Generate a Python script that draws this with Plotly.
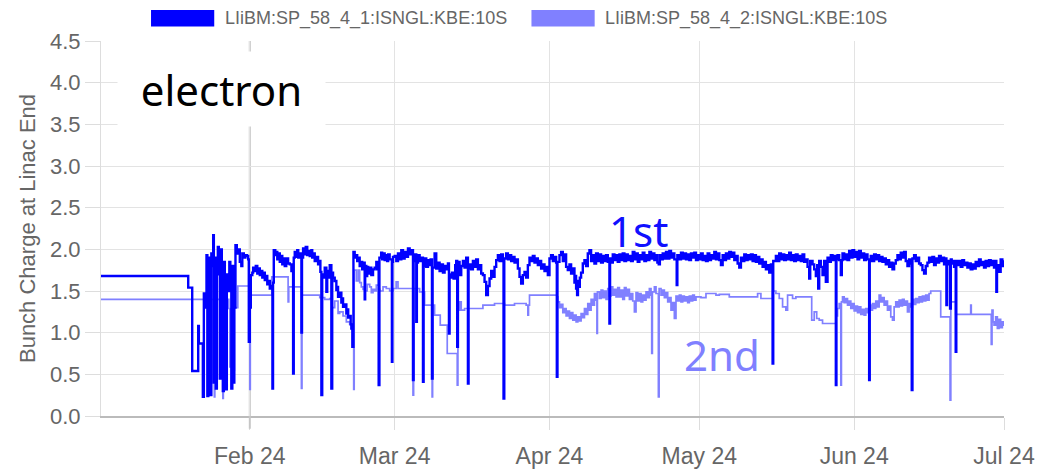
import pandas as pd
import plotly.graph_objects as go

# time axis: days since 2024-01-01
start = pd.Timestamp("2024-01-01")

# first bunch (dark blue)
blue_day_jan = [1.2, 18.67, 19.47, 20.67, 20.8, 21.6, 21.8, 22.1, 22.33, 22.5, 22.7, 22.9, 23.1, 23.3, 23.5,
                23.67, 23.8, 24.0, 24.2, 24.4, 24.6, 24.8, 25.0, 25.2, 25.4, 25.6, 25.8, 26.0, 26.2, 26.4,
                26.6, 26.9, 27.1, 27.3, 27.5, 27.7, 27.9, 28.13, 28.4, 28.6, 28.8, 29.0, 29.3, 29.5, 29.8,
                30.1, 30.4, 30.67, 30.8, 31.0, 31.2]
blue_q_jan = [1.68, 1.54, 0.54, 1.08, 0.87, 0.23, 1.47, 1.30, 1.93, 0.24, 1.90, 1.85, 0.25, 1.95, 1.80,
              2.17, 0.40, 1.90, 0.33, 1.85, 2.03, 1.70, 0.45, 2.00, 1.50, 0.30, 1.85, 0.90, 0.32, 1.70,
              1.50, 1.85, 1.60, 0.33, 1.80, 0.40, 1.30, 2.05, 1.95, 1.97, 2.00, 1.85, 1.80, 1.95, 1.90,
              1.93, 1.92, 1.88, 0.89, 1.30, 1.69]

blue_day_feb = [31.5, 31.67, 32.0, 32.2, 32.5, 32.67, 33.0, 33.2, 33.5, 33.67, 34.0, 34.2, 34.5, 34.67, 35.0,
                35.33, 35.53, 35.65, 35.8, 36.1, 36.33, 36.5, 36.7, 37.0, 37.3, 37.5, 37.67, 38.0, 38.3, 38.67,
                39.0, 39.33, 39.67, 39.8, 40.0, 40.33, 40.5, 40.7, 41.0, 41.33, 41.45, 41.67, 42.0, 42.2, 42.5,
                42.67, 43.0, 43.33, 43.5, 43.7, 44.0, 44.3, 44.67, 45.0, 45.13, 45.33, 45.5, 45.67, 46.0, 46.33,
                46.5, 46.67, 47.0, 47.33, 47.5, 47.67, 48.0, 48.33, 48.5, 48.67, 49.0, 49.33, 49.5, 49.67, 50.0,
                50.33, 50.5, 50.7, 51.0, 51.2, 51.33, 51.53, 51.75, 52.0, 52.33, 52.5, 52.7, 53.0, 53.33, 53.5,
                53.67, 54.0, 54.1, 54.33, 54.5, 54.7, 55.0, 55.33, 55.67, 56.0, 56.33, 56.5, 56.8, 56.95, 57.3,
                57.5, 57.67, 58.0, 58.33, 58.5, 58.7, 59.0, 59.45, 59.55, 59.67]
blue_q_feb = [1.72, 1.78, 1.74, 1.80, 1.71, 1.77, 1.69, 1.74, 1.66, 1.72, 1.63, 1.68, 1.58, 1.62, 1.53,
              1.56, 0.33, 1.60, 1.99, 1.93, 1.97, 1.88, 1.95, 1.85, 1.92, 1.82, 1.89, 1.80, 1.89, 1.83,
              1.82, 1.74, 0.51, 1.90, 1.97, 1.91, 1.99, 1.90, 1.95, 1.00, 1.90, 2.01, 1.94, 2.03, 1.93,
              1.98, 1.92, 1.99, 1.90, 1.95, 1.86, 1.91, 1.82, 1.86, 1.73, 0.25, 1.70, 1.66, 1.78, 1.49,
              1.74, 1.66, 1.81, 0.33, 1.72, 1.66, 1.62, 1.51, 1.55, 1.43, 1.48, 1.36, 1.41, 1.31, 1.34,
              1.23, 1.28, 1.18, 1.20, 1.10, 1.05, 0.83, 1.97, 1.90, 1.93, 1.86, 1.90, 1.80, 1.85, 1.76,
              1.84, 1.40, 1.80, 1.68, 1.79, 1.71, 1.78, 1.69, 1.76, 1.78, 1.85, 1.76, 0.37, 1.90, 1.96,
              1.88, 1.95, 1.87, 1.93, 1.86, 1.94, 1.88, 0.65, 1.85, 1.91]

blue_day_mar = [60.0, 60.33, 60.67, 61.0, 61.33, 61.67, 62.0, 62.33, 62.67, 63.0, 63.33, 63.67, 63.8, 64.0,
                64.33, 64.45, 64.67, 65.0, 65.33, 65.67, 65.8, 66.0, 66.33, 66.67, 67.0, 67.2, 67.47, 67.6,
                68.0, 68.33, 68.67, 69.0, 69.33, 69.67, 70.0, 70.33, 70.67, 70.87, 71.0, 71.13, 71.47, 71.8,
                72.13, 72.33, 72.53, 72.67, 73.0, 73.33, 73.67, 74.0, 74.33, 74.67, 74.8, 75.0, 75.33, 75.67,
                76.0, 76.33, 76.67, 77.0, 77.33, 77.67, 78.0, 78.33, 78.67, 79.0, 79.33, 79.67, 80.0, 80.33,
                80.67, 81.0, 81.33, 81.67, 81.8, 81.95, 82.33, 82.67, 83.0, 83.33, 83.67, 84.0, 84.33, 84.67,
                85.0, 85.33, 85.67, 86.0, 86.33, 86.67, 87.0, 87.33, 87.67, 88.0, 88.33, 88.67, 89.0, 89.33,
                89.67, 90.0, 90.33, 90.67, 91.0, 91.33, 91.67]
blue_q_mar = [1.92, 1.86, 1.95, 1.88, 1.99, 1.89, 1.97, 1.91, 2.01, 1.94, 1.99, 0.43, 1.86, 1.94,
              1.13, 1.84, 1.93, 1.86, 1.90, 0.41, 1.80, 1.89, 1.79, 1.87, 1.81, 1.88, 0.45, 1.78,
              1.95, 1.77, 1.84, 1.74, 1.82, 1.72, 1.80, 1.76, 1.83, 0.99, 1.70, 1.66, 1.72, 1.65,
              1.81, 1.86, 0.83, 1.85, 1.69, 1.80, 1.86, 1.78, 1.90, 0.39, 1.77, 1.82, 1.76, 1.86,
              1.79, 1.88, 1.76, 1.81, 1.71, 1.69, 1.61, 1.45, 1.56, 1.65, 1.74, 1.67, 1.79, 1.87,
              1.93, 1.86, 1.94, 1.88, 0.21, 1.89, 1.95, 1.88, 1.93, 1.86, 1.91, 1.84, 1.88, 1.77,
              1.67, 1.59, 1.69, 1.73, 1.66, 1.81, 1.90, 1.86, 1.92, 1.84, 1.89, 1.81, 1.86, 1.77,
              1.82, 1.74, 1.79, 1.69, 1.89, 1.93, 1.86]

blue_day_apr = [92.0, 92.33, 92.47, 92.6, 93.0, 93.33, 93.67, 94.0, 94.33, 94.67, 95.0, 95.33, 95.67, 96.0,
                96.2, 96.33, 96.53, 96.7, 96.8, 97.07, 97.33, 97.67, 98.0, 98.33, 98.67, 99.0, 99.33, 99.67,
                100.0, 100.33, 100.67, 101.0, 101.33, 101.67, 102.0, 102.33, 102.67, 103.0, 103.13, 103.33,
                103.67, 104.0, 104.33, 104.67, 105.0, 105.33, 105.67, 106.0, 106.33, 106.67, 107.0, 107.33,
                107.67, 108.0, 108.33, 108.67, 109.0, 109.33, 109.67, 110.0, 110.33, 110.67, 111.0, 111.33,
                111.67, 112.0, 112.33, 112.6, 112.87, 113.1, 113.33, 113.67, 114.0, 114.33, 114.67, 115.0,
                115.33, 115.67, 116.0, 116.47, 116.6, 117.0, 117.33, 117.67, 118.0, 118.33, 118.67, 119.0,
                119.33, 119.67, 120.0, 120.33, 120.67, 121.0, 121.33, 121.67]
blue_q_apr = [1.91, 1.84, 0.47, 1.85, 1.93, 1.97, 1.86, 1.94, 1.79, 1.75, 1.82, 1.71, 1.77, 1.60,
              1.68, 1.53, 1.45, 1.62, 1.55, 1.66, 1.72, 1.83, 1.87, 1.80, 1.95, 1.99, 1.86, 1.93,
              1.83, 1.95, 1.86, 1.94, 1.84, 1.92, 1.86, 1.93, 1.85, 1.11, 1.89, 1.84,
              1.94, 1.87, 1.93, 1.85, 1.94, 1.87, 1.95, 1.86, 1.94, 1.87, 1.92, 1.86,
              1.97, 1.88, 1.95, 1.85, 1.93, 1.88, 1.96, 1.86, 1.93, 1.87, 1.97, 1.89,
              1.95, 1.87, 1.93, 1.84, 1.82, 1.93, 1.88, 1.95, 1.89, 1.97, 1.89, 1.98,
              1.90, 1.95, 1.88, 1.57, 1.93, 1.88, 1.96, 1.89, 1.95, 1.88, 1.94, 1.87,
              1.95, 1.90, 1.96, 1.87, 1.93, 1.88, 1.95, 1.87]

blue_day_may = [122.0, 122.33, 122.67, 123.0, 123.33, 123.67, 124.0, 124.33, 124.67, 125.0, 125.33, 125.67,
                126.0, 126.33, 126.67, 127.0, 127.33, 127.67, 128.0, 128.33, 128.67, 129.0, 129.33, 129.67,
                130.0, 130.33, 130.67, 131.0, 131.33, 131.67, 132.0, 132.33, 132.67, 133.0, 133.33, 133.67,
                134.0, 134.33, 134.67, 135.0, 135.33, 135.67, 135.8, 136.33, 136.67, 137.0, 137.33, 137.67,
                138.0, 138.33, 138.67, 139.0, 139.33, 139.67, 140.0, 140.33, 140.67, 141.0, 141.33, 141.67,
                142.0, 142.33, 142.67, 143.0, 143.2, 143.67, 144.0, 144.33, 144.6, 144.8, 145.0, 145.33,
                145.67, 146.0, 146.33, 146.67, 147.0, 147.33, 147.67, 148.0, 148.33, 148.45, 148.67, 149.0,
                149.33, 149.53, 149.67, 150.0, 150.33, 150.67, 151.0, 151.33, 151.67]
blue_q_may = [1.92, 1.86, 1.95, 1.87, 1.93, 1.89, 1.97, 1.88, 1.95, 1.87, 1.81, 1.93,
              1.87, 1.95, 1.89, 1.97, 1.91, 1.96, 1.87, 1.92, 1.83, 1.78, 1.90, 1.86,
              1.94, 1.87, 1.93, 1.88, 1.94, 1.86, 1.93, 1.85, 1.91, 1.83, 1.88, 1.79,
              1.85, 1.76, 1.81, 1.72, 1.82, 0.63, 1.86, 1.92, 1.86, 1.95, 1.88, 1.94,
              1.87, 1.93, 1.88, 1.96, 1.87, 1.93, 1.86, 1.94, 1.87, 1.92, 1.86, 1.94,
              1.85, 1.88, 1.79, 1.65, 1.86, 1.82, 1.76, 1.68, 1.81, 1.53, 1.86, 1.79,
              1.69, 1.86, 1.61, 1.90, 1.85, 1.93, 1.87, 1.92, 0.37, 1.88, 1.93, 1.87,
              1.69, 1.87, 1.95, 1.88, 1.94, 1.87, 1.98, 1.90, 1.99]

blue_day_jun = [152.0, 152.33, 152.67, 153.0, 153.33, 153.67, 154.0, 154.33, 154.67, 155.0, 155.12, 155.33,
                155.67, 156.0, 156.33, 156.67, 157.0, 157.33, 157.67, 158.0, 158.33, 158.67, 159.0, 159.33,
                159.67, 160.0, 160.33, 160.67, 161.0, 161.33, 161.67, 162.0, 162.33, 162.67, 163.0, 163.27,
                163.53, 163.67, 164.0, 164.33, 164.67, 165.0, 165.33, 165.67, 166.0, 166.33, 166.67, 167.0,
                167.33, 167.67, 168.0, 168.33, 168.67, 169.0, 169.33, 169.67, 170.0, 170.33, 170.47, 170.6,
                171.0, 171.2, 171.35, 171.53, 171.8, 172.0, 172.33, 172.45, 172.67, 173.0, 173.33, 173.67,
                174.0, 174.33, 174.67, 175.0, 175.33, 175.67, 176.0, 176.33, 176.67, 177.0, 177.33, 177.67,
                178.0, 178.33, 178.67, 179.0, 179.33, 179.67, 180.0, 180.2, 180.47, 180.6, 181.0, 181.33,
                181.67, 182.0]
blue_q_jun = [1.91, 1.97, 1.88, 1.98, 1.90, 1.95, 1.87, 1.94, 1.88, 0.43, 1.86, 1.92,
              1.86, 1.94, 1.88, 1.93, 1.86, 1.91, 1.85, 1.89, 1.82, 1.87, 1.79, 1.84,
              1.76, 1.83, 1.87, 1.93, 1.88, 1.96, 1.90, 1.97, 1.86, 1.80, 1.88, 1.83,
              0.31, 1.89, 1.93, 1.86, 1.90, 1.83, 1.81, 1.75, 1.71, 1.80, 1.84, 1.90,
              1.85, 1.91, 1.81, 1.89, 1.84, 1.92, 1.86, 1.90, 1.82, 1.89, 1.33, 1.86,
              1.82, 1.29, 1.88, 1.83, 1.86, 1.79, 0.77, 1.86, 1.81, 1.86, 1.79, 1.87,
              1.81, 1.84, 1.78, 1.83, 1.76, 1.82, 1.77, 1.85, 1.80, 1.88, 1.81, 1.85,
              1.78, 1.86, 1.80, 1.87, 1.81, 1.86, 1.78, 1.86, 1.49, 1.81, 1.73, 1.88,
              1.80, 1.87]

# second bunch (light blue)
light_day_jan_mar = [1.2, 23.9, 24.0, 25.6, 25.7, 26.8, 27.0, 27.1, 27.8, 27.9, 28.6, 31.0, 31.1, 35.4, 38.67,
                     38.8, 41.33, 41.45, 45.0, 46.0, 47.0, 47.5, 48.0, 48.67, 49.0, 49.67, 50.33, 51.0, 51.5,
                     51.8, 51.9, 52.33, 52.7, 53.0, 53.33, 53.67, 54.0, 54.5, 55.0, 55.33, 55.67, 56.0, 56.33,
                     56.8, 57.0, 57.67, 58.33, 59.0, 59.67, 60.0, 60.3, 60.67, 63.67, 63.8, 65.0, 66.0, 67.5,
                     67.6, 68.0, 69.13, 70.53, 72.53, 72.67, 73.0, 73.33, 74.0, 77.67, 80.0, 82.0, 84.0, 86.33,
                     86.67, 86.8, 87.0]
light_q_jan_mar = [1.40, 0.23, 1.40, 0.21, 1.40, 1.29, 0.59, 1.29, 0.55, 1.30, 1.56, 0.32, 1.45, 1.67, 1.37,
                   1.55, 0.33, 1.45, 1.42, 1.40, 1.41, 1.30, 1.38, 1.23, 1.25, 1.20, 1.13, 1.10, 1.05,
                   0.32, 1.75, 1.62, 1.75, 1.60, 1.55, 1.52, 1.50, 1.58, 1.55, 1.48, 1.52, 1.50, 1.57,
                   1.52, 1.50, 1.55, 1.53, 1.50, 1.53, 1.53, 1.61, 1.53, 0.25, 1.53, 1.49, 1.33, 0.23,
                   1.33, 1.21, 1.09, 0.75, 0.37, 1.27, 1.37, 1.27, 1.29, 1.33, 1.35, 1.33, 1.35, 1.33,
                   1.21, 1.33, 1.45]

light_day_apr = [92.47, 92.67, 93.0, 93.33, 93.67, 94.0, 94.33, 94.67, 95.0, 95.33, 95.67, 96.0, 96.33, 96.67,
                 97.0, 97.33, 97.67, 98.0, 98.33, 98.67, 99.0, 99.33, 99.67, 100.0, 100.33, 100.5, 100.6, 101.0,
                 101.33, 101.67, 102.0, 102.33, 102.67, 103.0, 103.33, 103.67, 104.0, 104.33, 104.67, 105.0,
                 105.33, 105.67, 106.0, 106.33, 106.67, 107.0, 107.33, 107.67, 108.0, 108.33, 108.67, 109.0,
                 109.33, 109.67, 110.0, 110.33, 110.67, 111.0, 111.33, 111.47, 111.6, 112.0, 112.33, 112.8,
                 112.95, 113.33, 113.67, 114.0, 114.33, 114.67, 115.0, 115.33, 115.67, 116.0, 116.33, 116.67,
                 117.0, 117.33, 117.67, 118.0, 118.33, 118.67, 119.0, 119.33, 119.67, 120.0, 120.33]
light_q_apr = [1.43, 1.37, 1.30, 1.34, 1.24, 1.29, 1.20, 1.26, 1.17, 1.24, 1.15, 1.21, 1.13, 1.19,
               1.14, 1.23, 1.18, 1.29, 1.22, 1.35, 1.27, 1.40, 1.33, 1.47, 1.39, 0.99, 1.49, 1.41,
               1.51, 1.42, 1.50, 1.40, 1.53, 1.44, 1.55, 1.45, 1.52, 1.43, 1.54, 1.43,
               1.51, 1.40, 1.54, 1.44, 1.52, 1.40, 1.47, 1.38, 1.25, 1.48, 1.38, 1.47,
               1.37, 1.45, 1.39, 1.49, 1.42, 1.53, 1.45, 0.75, 1.49, 1.55, 1.47, 0.23,
               1.53, 1.45, 1.51, 1.42, 1.48, 1.37, 1.42, 1.27, 1.36, 1.17, 1.44, 1.38,
               1.45, 1.37, 1.44, 1.38, 1.43, 1.36, 1.44, 1.38, 1.45, 1.39, 1.43]

light_day_may = [121.33, 122.33, 124.33, 125.0, 127.0, 132.67, 133.33, 135.67, 136.33, 137.0, 137.67, 138.33,
                 138.67, 139.67, 140.33, 141.0, 143.5, 144.0, 144.5, 145.0, 145.67, 148.33, 148.67, 149.0,
                 149.33, 149.45]
light_q_may = [1.42, 1.47, 1.45, 1.46, 1.43, 1.47, 1.41, 1.50, 1.47, 1.41, 1.31, 1.27,
               1.45, 1.41, 1.43, 1.43, 1.15, 1.25, 1.17, 1.15, 1.11, 1.20, 1.29, 1.35,
               0.37, 1.37]

light_day_jun = [149.67, 150.0, 150.33, 150.67, 151.0, 151.33, 151.67, 152.0, 152.33, 152.67, 153.0, 153.33,
                 153.67, 154.0, 154.33, 154.67, 155.0, 155.33, 155.67, 156.0, 156.33, 156.67, 157.0, 157.33,
                 157.67, 158.0, 158.33, 158.67, 159.0, 159.33, 159.67, 160.0, 160.33, 160.67, 161.0, 161.33,
                 161.67, 162.0, 162.33, 162.67, 163.0, 163.33, 163.67, 164.0, 164.33, 164.67, 165.0, 165.33,
                 165.67, 166.0, 166.33, 166.67, 167.0, 167.33, 169.33, 171.1, 171.2, 171.35, 172.33, 175.33,
                 175.45, 179.33, 179.45, 179.6, 179.8, 180.0, 180.33, 180.67, 181.0, 181.33, 181.67, 182.0]
light_q_jun = [1.43, 1.36, 1.41, 1.33, 1.38, 1.29, 1.35, 1.26, 1.32, 1.24, 1.31, 1.22,
               1.28, 1.21, 1.29, 1.24, 1.33, 1.27, 1.35, 1.29, 1.38, 1.31, 1.45, 1.37,
               1.42, 1.33, 1.38, 1.27, 1.32, 1.19, 1.15, 1.31, 1.37, 1.31, 1.39, 1.32,
               1.40, 1.33, 1.38, 1.25, 1.35, 1.31, 1.40, 1.34, 1.41, 1.36, 1.43, 1.37,
               1.44, 1.38, 1.45, 1.39, 1.47, 1.50, 1.19, 1.19, 0.19, 1.37, 1.22, 1.33,
               1.22, 1.22, 0.86, 1.27, 1.13, 1.09, 1.19, 1.05, 1.16, 1.06, 1.13, 1.08]

series_names = ["LIiBM:SP_58_4_1:ISNGL:KBE:10S", "LIiBM:SP_58_4_2:ISNGL:KBE:10S"]
series_colors = ["#0000ff", "#8080ff"]

blue_day = blue_day_jan + blue_day_feb + blue_day_mar + blue_day_apr + blue_day_may + blue_day_jun
blue_q = blue_q_jan + blue_q_feb + blue_q_mar + blue_q_apr + blue_q_may + blue_q_jun
light_day = light_day_jan_mar + light_day_apr + light_day_may + light_day_jun
light_q = light_q_jan_mar + light_q_apr + light_q_may + light_q_jun


def to_time(days):
    return [start + pd.Timedelta(days=d) for d in days]


fig = go.Figure()
fig.add_trace(go.Scatter(
    x=to_time(light_day), y=light_q, mode="lines", name=series_names[1],
    line=dict(color=series_colors[1], width=1.7, shape="hv"),
))
fig.add_trace(go.Scatter(
    x=to_time(blue_day), y=blue_q, mode="lines", name=series_names[0],
    line=dict(color=series_colors[0], width=2.4, shape="hv"),
))

# darker marker line at Feb 1 (plus its tick below the axis)
fig.add_shape(type="line", xref="x", yref="paper", x0="2024-02-01", x1="2024-02-01",
              y0=0, y1=1, line=dict(color="#c6c6c6", width=2), layer="between")
fig.add_shape(type="line", xref="x", yref="paper", x0="2024-02-01", x1="2024-02-01",
              y0=-0.034, y1=0, line=dict(color="#c6c6c6", width=2), layer="above")

# legend drawn by hand: wide colour blocks above the plot
legend_x = [0.0554, 0.4767]
for i in range(2):
    fig.add_shape(type="rect", xref="paper", yref="paper",
                  x0=legend_x[i], x1=legend_x[i] + 0.0700, y0=1.0387, y1=1.0827,
                  fillcolor=series_colors[i], line=dict(width=0))
    fig.add_annotation(text=series_names[i], xref="paper", yref="paper",
                       x=legend_x[i] + 0.0794, y=1.061, xanchor="left", yanchor="middle",
                       showarrow=False, font=dict(family="Liberation Sans", size=18, color="#666666"))

fig.add_annotation(text="electron", xref="paper", yref="paper", x=0.1334, y=0.872,
                   xanchor="center", yanchor="middle", showarrow=False, bgcolor="white",
                   width=199, height=66, borderpad=4,
                   font=dict(family="Noto Sans", size=42, color="black"))
fig.add_annotation(text="1st", xref="paper", yref="paper", x=0.5947, y=0.495,
                   xanchor="center", yanchor="middle", showarrow=False,
                   font=dict(family="Noto Sans", size=42, color="#1010ff"))
fig.add_annotation(text="2nd", xref="paper", yref="paper", x=0.6872, y=0.165,
                   xanchor="center", yanchor="middle", showarrow=False,
                   font=dict(family="Noto Sans", size=42, color="#8080ff"))

# the page body has an 8 px margin, so the figure is sized and offset for it
fig.update_layout(
    width=1036,
    height=461,
    margin=dict(l=93, r=40, t=33, b=53),
    plot_bgcolor="white",
    paper_bgcolor="white",
    showlegend=False,
    font=dict(family="Liberation Sans", color="#666666"),
)
fig.update_xaxes(
    type="date",
    range=["2024-01-02 05:00", "2024-07-01"],
    dtick="M1",
    tick0="2024-01-01",
    tickformat="%b %y",
    ticks="outside",
    ticklen=12,
    ticklabelstandoff=6,
    tickcolor="#dddddd",
    tickfont=dict(size=23, color="#666666"),
    showgrid=True,
    gridcolor="#e3e3e3",
    showline=True,
    linecolor="#bbbbbb",
    linewidth=2,
    zeroline=False,
    automargin=False,
)
fig.update_yaxes(
    range=[0, 4.5],
    dtick=0.5,
    tickformat=".1f",
    ticks="outside",
    ticklen=15,
    tickcolor="#dddddd",
    tickfont=dict(size=22, color="#666666"),
    showgrid=True,
    gridcolor="#e3e3e3",
    showline=True,
    linecolor="#dddddd",
    zeroline=False,
    automargin=False,
    title=dict(text="Bunch Charge at Linac End", standoff=8,
               font=dict(size=22, color="#666666")),
)

fig.write_html("out.html")
